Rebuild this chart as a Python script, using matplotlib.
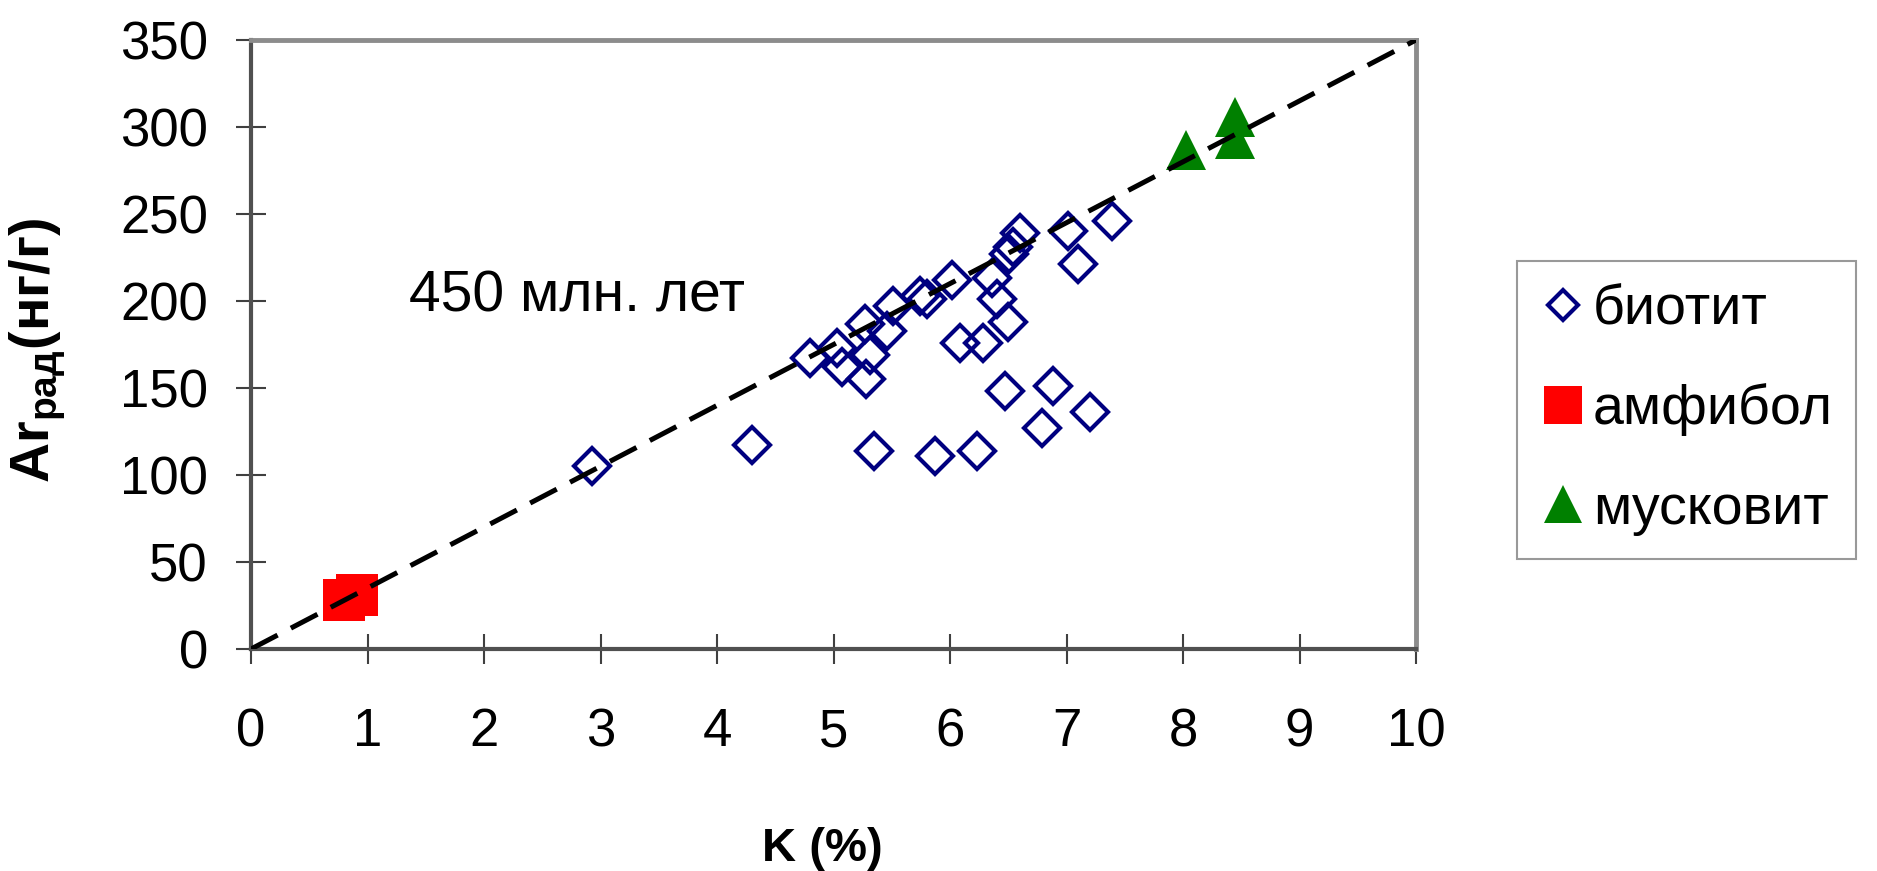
import matplotlib
matplotlib.use("Agg")
import matplotlib.pyplot as plt
from matplotlib.lines import Line2D

plt.rcParams['font.family'] = ['Liberation Sans', 'DejaVu Sans']
plt.rcParams['mathtext.fontset'] = 'custom'
plt.rcParams['mathtext.rm'] = 'Liberation Sans'
plt.rcParams['mathtext.bf'] = 'Liberation Sans:bold'
plt.rcParams['mathtext.default'] = 'bf'

# K content (%) and radiogenic argon (ng/g) per mineral
biotite_k = [2.93, 4.30, 4.80, 5.03, 5.07, 5.27, 5.28, 5.31, 5.35, 5.46,
             5.51, 5.74, 5.80, 5.87, 6.02, 6.09, 6.23, 6.28, 6.36, 6.40,
             6.47, 6.50, 6.51, 6.54, 6.60, 6.79, 6.88, 7.01, 7.10, 7.20, 7.39]
biotite_ar = [105, 117, 167, 173, 162, 187, 155, 169, 114, 183,
              197, 203, 201, 111, 212, 176, 114, 176, 213, 201,
              148, 188, 227, 231, 239, 127, 151, 240, 221, 136, 246]

amphibole_k = [0.80, 0.91]
amphibole_ar = [28, 31]

muscovite_k = [8.03, 8.45, 8.45]
muscovite_ar = [287, 306, 293]

# 450 Ma isochron
isochron_k = [0, 10]
isochron_ar = [0, 350]

x_ticks = [0, 1, 2, 3, 4, 5, 6, 7, 8, 9, 10]
y_ticks = [0, 50, 100, 150, 200, 250, 300, 350]

labels = ['биотит', 'амфибол', 'мусковит']
age_text = '450 млн. лет'

W, H = 1877, 871
fig = plt.figure(figsize=(W / 100, H / 100), dpi=100)
ax = fig.add_axes([251 / W, 1 - 649 / H, (1416 - 251) / W, (649 - 40) / H])

ax.plot(biotite_k, biotite_ar, linestyle='none', marker='D', ms=18,
        mfc='none', mec='#000080', mew=3.0, zorder=3)
ax.plot(amphibole_k, amphibole_ar, linestyle='none', marker='s', ms=30,
        mfc='#ff0000', mec='#ff0000', mew=0, zorder=3)
ax.plot(muscovite_k, muscovite_ar, linestyle='none', marker='^', ms=29,
        mfc='#008000', mec='#008000', mew=0, zorder=3)
ax.plot(isochron_k, isochron_ar, color='black', lw=3.6,
        linestyle=(0, (6, 3)), zorder=4, solid_capstyle='butt')

ax.text(1.36, 194, age_text, fontsize=41, va='baseline', ha='left')

ax.set_xlim(0, 10)
ax.set_ylim(0, 350)
ax.set_xticks(x_ticks)
ax.set_yticks(y_ticks)
ax.tick_params(axis='both', direction='inout', length=22, width=1.5,
               color='#404040', labelsize=38)
ax.tick_params(axis='x', pad=31)
ax.tick_params(axis='y', pad=20)

for side in ('left', 'bottom'):
    ax.spines[side].set_color('#505050')
    ax.spines[side].set_linewidth(3)
for side in ('top', 'right'):
    ax.spines[side].set_color('#8c8c8c')
    ax.spines[side].set_linewidth(3.5)

fig.text(822 / W, 1 - 849 / H, 'K (%)', fontsize=34, fontweight='bold',
         ha='center', va='center')
fig.text(38 / W, 1 - 350 / H, 'Ar$_{рад}$(нг/г)', fontsize=40,
         fontweight='bold', rotation=90, ha='center', va='center')

handles = [
    Line2D([], [], linestyle='none', marker='D', ms=15, mfc='none',
           mec='#000080', mew=3.0),
    Line2D([], [], linestyle='none', marker='s', ms=28, mfc='#ff0000',
           mec='#ff0000', mew=0),
    Line2D([], [], linestyle='none', marker='^', ms=28, mfc='#008000',
           mec='#008000', mew=0),
]
leg = fig.legend(handles, labels, loc='upper left',
                 bbox_to_anchor=(1517 / W, 1 - 261 / H), fontsize=40,
                 frameon=True, fancybox=False, borderpad=0.42,
                 labelspacing=0.85, handlelength=0.8, handletextpad=0.15,
                 borderaxespad=0)
leg.get_frame().set_edgecolor('#808080')
leg.get_frame().set_linewidth(1.5)

fig.savefig('out.png', dpi=100, facecolor='white')
